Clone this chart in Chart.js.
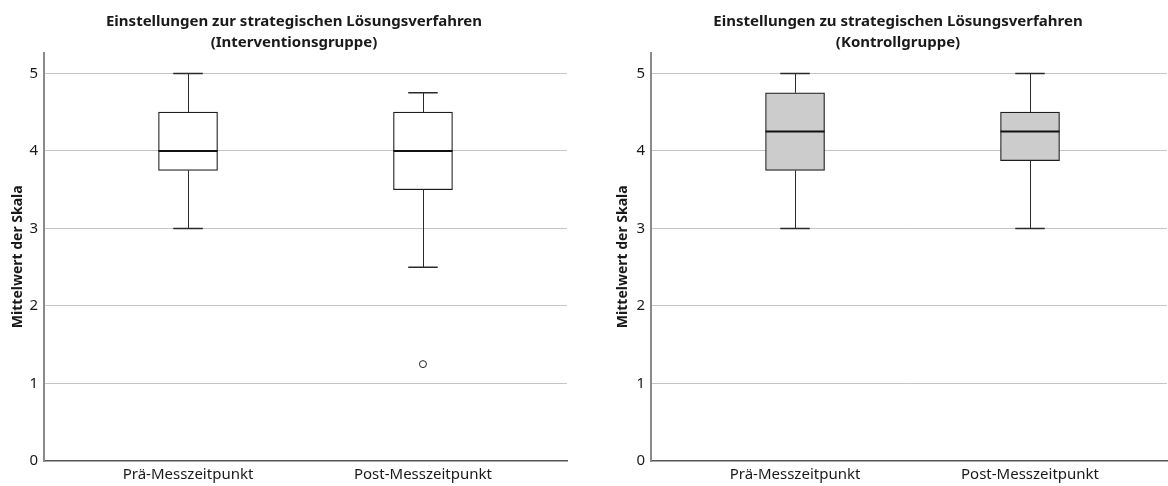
<!DOCTYPE html>
<html>
<head>
<meta charset="utf-8">
<script src="https://cdn.jsdelivr.net/npm/chart.js@4/dist/chart.umd.min.js"></script>
<style>
    body { margin: 0; background: #fff; }
    #wrap { display: flex; width: 1168px; height: 486px; }
    canvas { display: block; }
</style>
</head>
<body>
<div id="wrap">
    <canvas id="chartInt" width="584" height="486"></canvas>
    <canvas id="chartKon" width="584" height="486"></canvas>
</div>
<script>
// Categories and tick labels
const categories = ['Prä-Messzeitpunkt', 'Post-Messzeitpunkt'];
const yTicks = [0, 1, 2, 3, 4, 5];

// Interventionsgruppe (box plot stats per category)
const intMin = [3, 2.5];
const intQ1 = [3.75, 3.5];
const intMedian = [4, 4];
const intQ3 = [4.5, 4.5];
const intMax = [5, 4.75];
const intOutliers = [[], [1.25]];

// Kontrollgruppe
const konMin = [3, 3];
const konQ1 = [3.75, 3.875];
const konMedian = [4.25, 4.25];
const konQ3 = [4.75, 4.5];
const konMax = [5, 5];
const konOutliers = [[], []];

const FONT = "'Noto Sans', 'Open Sans', sans-serif";

// Draws whiskers, caps and median lines using the chart's scales
const boxPlotPlugin = {
    id: 'boxPlot',
    afterDatasetsDraw(chart) {
        const stats = chart.options.plugins.boxPlot;
        const x = chart.scales.x;
        const y = chart.scales.y;
        const ctx = chart.ctx;
        const bars = chart.getDatasetMeta(0).data;
        ctx.save();
        stats.median.forEach((med, i) => {
            const cx = x.getPixelForValue(i + 1);
            const lx = Math.round(cx) + 0.5;
            const pxMin = y.getPixelForValue(stats.min[i]);
            const pxMax = y.getPixelForValue(stats.max[i]);
            const pxQ1 = y.getPixelForValue(stats.q1[i]);
            const pxQ3 = y.getPixelForValue(stats.q3[i]);
            const pxMed = y.getPixelForValue(med);
            const half = bars[i].width / 2;
            const cap = half / 2;

            ctx.strokeStyle = '#2a2a2a';
            ctx.lineWidth = 1;
            ctx.beginPath();
            ctx.moveTo(lx, pxQ3);
            ctx.lineTo(lx, pxMax);
            ctx.moveTo(lx, pxQ1);
            ctx.lineTo(lx, pxMin);
            ctx.stroke();

            ctx.lineWidth = 1.5;
            ctx.beginPath();
            ctx.moveTo(cx - cap, pxMax);
            ctx.lineTo(cx + cap, pxMax);
            ctx.moveTo(cx - cap, pxMin);
            ctx.lineTo(cx + cap, pxMin);
            ctx.stroke();

            ctx.strokeStyle = '#111';
            ctx.lineWidth = 2;
            ctx.beginPath();
            ctx.moveTo(cx - half, pxMed);
            ctx.lineTo(cx + half, pxMed);
            ctx.stroke();
        });
        ctx.restore();
    }
};

// padLeft shifts the centred title; yWidth + padLeft puts the y axis line,
// titleX is where the rotated y title sits
const makeChart = (canvasId, titleLines, stats, fill, padLeft, yWidth, padRight, xMax, titleX) => {
    const boxes = stats.q1.map((q, i) => ({ x: i + 1, y: [q, stats.q3[i]] }));
    const outliers = [];
    stats.outliers.forEach((list, i) => list.forEach(v => outliers.push({ x: i + 1, y: v })));

    return new Chart(document.getElementById(canvasId), {
        type: 'bar',
        data: {
            datasets: [
                {
                    type: 'bar',
                    data: boxes,
                    backgroundColor: fill,
                    borderColor: '#1e1e1e',
                    borderWidth: 1.2,
                    borderSkipped: false,
                    barThickness: 59
                },
                {
                    type: 'scatter',
                    data: outliers,
                    pointRadius: 3.5,
                    pointStyle: 'circle',
                    backgroundColor: '#fff',
                    borderColor: '#222',
                    borderWidth: 1
                }
            ]
        },
        options: {
            responsive: false,
            animation: false,
            layout: { padding: { left: padLeft, right: padRight, top: 0, bottom: 0 } },
            plugins: {
                legend: { display: false },
                tooltip: { enabled: false },
                title: {
                    display: true,
                    text: titleLines,
                    color: '#1a1a1a',
                    font: { family: FONT, size: 15, weight: 'bold', lineHeight: 1.35 },
                    padding: { top: 12, bottom: 0 }
                },
                boxPlot: stats
            },
            scales: {
                x: {
                    type: 'linear',
                    offset: false,
                    min: 0.387,
                    max: xMax,
                    afterBuildTicks: scale => {
                        scale.ticks = categories.map((c, i) => ({ value: i + 1 }));
                    },
                    afterFit: scale => { scale.height = 25; },
                    ticks: {
                        color: '#1a1a1a',
                        font: { family: FONT, size: 15 },
                        padding: 5,
                        maxRotation: 0,
                        autoSkip: false,
                        callback: v => categories[v - 1]
                    },
                    grid: { display: false, drawTicks: false, offset: false },
                    border: { display: true, color: '#555', width: 1.5 }
                },
                y: {
                    min: 0,
                    max: 5.27,
                    afterBuildTicks: scale => {
                        scale.ticks = yTicks.map(v => ({ value: v }));
                    },
                    afterFit: scale => { scale.width = yWidth; },
                    ticks: {
                        color: '#1a1a1a',
                        font: { family: FONT, size: 15 },
                        padding: 6
                    },
                    grid: {
                        drawTicks: false,
                        color: ctx => ctx.tick && ctx.tick.value === 0 ? 'rgba(0,0,0,0)' : '#c4c4c4',
                        lineWidth: 1
                    },
                    border: { display: true, color: '#8a8a8a', width: 2 },
                    title: {
                        display: true,
                        text: 'Mittelwert der Skala',
                        color: '#1a1a1a',
                        font: { family: FONT, size: 14, weight: 'bold' },
                        padding: { top: titleX - 8.4 - padLeft, bottom: 0 }
                    }
                }
            }
        },
        plugins: [boxPlotPlugin]
    });
};

makeChart('chartInt',
    ['Einstellungen zur strategischen Lösungsverfahren', '(Interventionsgruppe)'],
    { min: intMin, q1: intQ1, median: intMedian, q3: intQ3, max: intMax, outliers: intOutliers },
    '#ffffff', 21, 23, 17, 2.613, 18);

makeChart('chartKon',
    ['Einstellungen zu strategischen Lösungsverfahren', '(Kontrollgruppe)'],
    { min: konMin, q1: konQ1, median: konMedian, q3: konQ3, max: konMax, outliers: konOutliers },
    '#cccccc', 45, 22, 1, 2.583, 39);
</script>
</body>
</html>
